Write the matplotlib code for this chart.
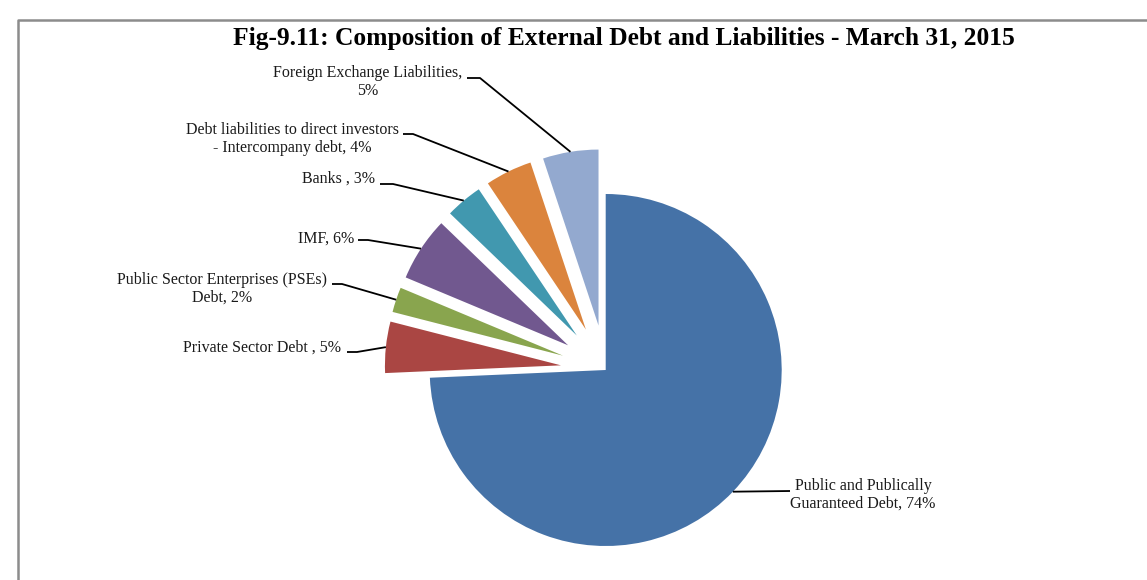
import math
import matplotlib.pyplot as plt
from matplotlib.lines import Line2D

# Composition of external debt and liabilities, share in percent
categories = [
    "Public and Publically Guaranteed Debt",
    "Private Sector Debt",
    "Public Sector Enterprises (PSEs) Debt",
    "IMF",
    "Banks",
    "Debt liabilities to direct investors - Intercompany debt",
    "Foreign Exchange Liabilities",
]
shares = [74.3, 4.7, 2.3, 5.9, 3.4, 4.3, 5.1]
labels = [
    "Public and Publically\nGuaranteed Debt, 74%",
    "Private Sector Debt , 5%",
    "Public Sector Enterprises (PSEs)\nDebt, 2%",
    "IMF, 6%",
    "Banks , 3%",
    "Debt liabilities to direct investors\n- Intercompany debt, 4%",
    "Foreign Exchange Liabilities,\n5%",
]
colors = ["#4572A7", "#AA4643", "#89A54E", "#71588F", "#4198AF", "#DB843D", "#93A9CF"]

W, H = 1147, 580

# label layout in pixels from top-left: text centre, and leader start/elbow
label_xy = [(863, 495), (262, 348), (222, 289), (326, 239), (339, 179), (292, 139), (368, 82)]
leader_start = [(790, 491), (357, 352), (342, 284), (368, 240), (393, 184), (413, 134), (480, 78)]
leader_elbow = [(732, 491), (347, 352), (332, 284), (358, 240), (380, 184), (403, 134), (467, 78)]

fig = plt.figure(figsize=(W / 100, H / 100), dpi=100)
ax = fig.add_axes([0, 0, 1, 1])

explode = [0] + [45] * (len(shares) - 1)
wedges, _ = ax.pie(shares, colors=colors, startangle=90, counterclock=False,
                   explode=explode, radius=176, center=(605.7, H - 370),
                   wedgeprops=dict(linewidth=0))
ax.set_xlim(0, W)
ax.set_ylim(0, H)
ax.set_aspect("equal")
ax.axis("off")

font = ["Liberation Serif", "DejaVu Serif"]
for w, lab, (tx, ty), (sx, sy), (ex, ey) in zip(wedges, labels, label_xy, leader_start, leader_elbow):
    ax.text(tx, H - ty, lab, ha="center", va="center", fontsize=11.5,
            family=font, color="#1a1a1a", linespacing=1.1)
    mid = math.radians((w.theta1 + w.theta2) / 2)
    ax_, ay_ = w.center[0] + w.r * math.cos(mid), w.center[1] + w.r * math.sin(mid)
    if lab.startswith("Public and"):
        xs, ys = [sx, ax_], [H - sy, ay_]
    else:
        xs, ys = [ex, sx, ax_], [H - ey, H - sy, ay_]
    ax.plot(xs, ys, color="black", lw=1.3, solid_capstyle="butt")

ax.text(624, H - 38, "Fig-9.11: Composition of External Debt and Liabilities - March 31, 2015",
        ha="center", va="center", fontsize=18.4, fontweight="bold", family=font)

# chart frame (only left and top edges visible)
ax.add_line(Line2D([18, 18, W + 5], [-5, H - 20, H - 20], color="#8c8c8c", lw=1.8, clip_on=False))

fig.savefig("out.png", dpi=100)
